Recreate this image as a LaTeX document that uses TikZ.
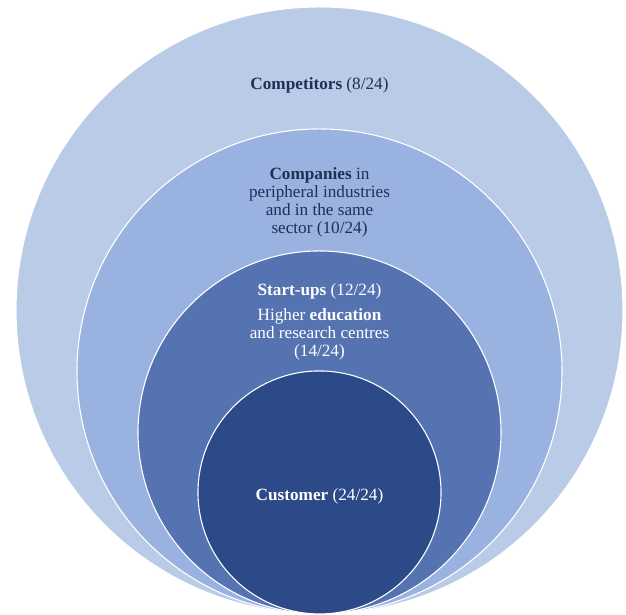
\documentclass[tikz,border=0pt]{standalone}
\usepackage{fontspec}
\setmainfont{Liberation Serif}
\usetikzlibrary{positioning}

\definecolor{ringOne}{HTML}{BACBE7}
\definecolor{ringTwo}{HTML}{99B2DF}
\definecolor{ringThree}{HTML}{5673B1}
\definecolor{ringFour}{HTML}{2C4A87}
\definecolor{navy}{HTML}{1F2F55}

\begin{document}
\begin{tikzpicture}[x=1pt, y=1pt,
  ring/.style={circle, draw=white, line width=1.1pt, inner sep=0pt, anchor=south},
  lbl/.style={align=center, inner sep=0pt, font=\fontsize{17.2}{18}\selectfont}]

\useasboundingbox (0,0) rectangle (626,615);
\coordinate (base) at (319.5,0.5);

% nested circles, all touching at the bottom
\node[ring, fill=ringOne,   minimum size=607pt] (competitors) at (base) {};
\node[ring, fill=ringTwo,   minimum size=485pt] (companies)   at (base) {};
\node[ring, fill=ringThree, minimum size=363pt] (startups)    at (base) {};
\node[ring, fill=ringFour,  minimum size=243pt] (customer)    at (base) {};

\node[lbl, text=navy, below=71pt of competitors.north] (competitorsText)
  {\textbf{Competitors} (8/24)};
\node[lbl, text=navy, below=39pt of companies.north] (companiesText)
  {\textbf{Companies} in\\peripheral industries\\and in the same\\sector (10/24)};
\node[lbl, text=white, below=33pt of startups.north] (startupsText)
  {\textbf{Start-ups} (12/24)};
\node[lbl, text=white, below=9pt of startupsText] (educationText)
  {Higher \textbf{education}\\and research centres\\(14/24)};
\node[lbl, text=white, below=118pt of customer.north] (customerText)
  {\textbf{Customer} (24/24)};

\end{tikzpicture}
\end{document}
